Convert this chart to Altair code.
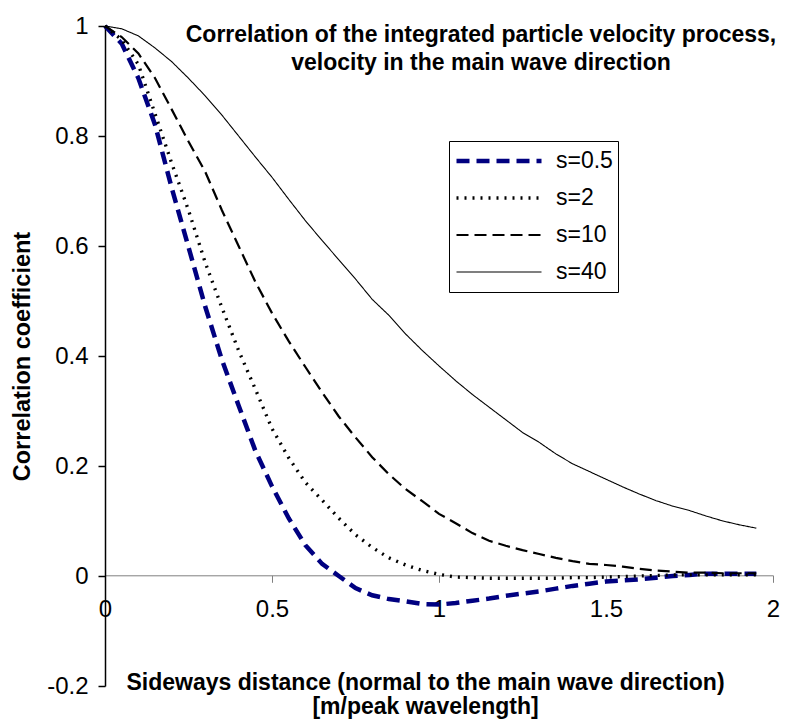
import altair as alt
import pandas as pd

FONT = "Liberation Sans, Arial, sans-serif"

x_vals = [0.0, 0.05, 0.1, 0.15, 0.2, 0.25, 0.3, 0.35, 0.4, 0.45,
          0.5, 0.55, 0.6, 0.65, 0.7, 0.75, 0.8, 0.85, 0.9, 0.95,
          1.0, 1.05, 1.1, 1.15, 1.2, 1.25, 1.3, 1.35, 1.4, 1.45,
          1.5, 1.55, 1.6, 1.65, 1.7, 1.75, 1.8, 1.85, 1.9, 1.95]

s05 = [1.0, 0.968, 0.905, 0.82, 0.705, 0.598, 0.49, 0.393, 0.31, 0.228,
       0.163, 0.105, 0.056, 0.022, 0.0, -0.022, -0.035, -0.042, -0.046, -0.051,
       -0.052, -0.049, -0.045, -0.041, -0.036, -0.032, -0.028, -0.023, -0.018, -0.014,
       -0.010, -0.008, -0.006, -0.003, 0.0, 0.002, 0.004, 0.004, 0.004, 0.004]

s2 = [1.0, 0.975, 0.93, 0.84, 0.75, 0.665, 0.57, 0.488, 0.41, 0.34,
      0.268, 0.215, 0.17, 0.138, 0.105, 0.075, 0.052, 0.033, 0.02, 0.01,
      0.003, -0.002, -0.003, -0.004, -0.004, -0.004, -0.004, -0.004, -0.003, -0.003,
      -0.002, -0.001, 0.0, 0.001, 0.002, 0.002, 0.002, 0.002, 0.002, 0.002]

s10 = [1.0, 0.98, 0.95, 0.905, 0.848, 0.79, 0.735, 0.665, 0.6, 0.535,
       0.478, 0.427, 0.38, 0.334, 0.29, 0.252, 0.216, 0.185, 0.158, 0.136,
       0.113, 0.096, 0.078, 0.064, 0.055, 0.047, 0.04, 0.033, 0.027, 0.022,
       0.02, 0.017, 0.013, 0.01, 0.008, 0.006, 0.006, 0.005, 0.005, 0.005]

s40 = [1.0, 0.995, 0.982, 0.96, 0.935, 0.905, 0.873, 0.838, 0.8, 0.762,
       0.725, 0.685, 0.646, 0.61, 0.575, 0.54, 0.503, 0.474, 0.44, 0.41,
       0.382, 0.355, 0.33, 0.307, 0.284, 0.261, 0.243, 0.222, 0.204, 0.19,
       0.176, 0.162, 0.149, 0.137, 0.127, 0.119, 0.109, 0.1, 0.093, 0.087]

series_labels = ["s=0.5", "s=2", "s=10", "s=40"]
series_values = [s05, s2, s10, s40]
series_colors = ["#000080", "#000000", "#000000", "#000000"]
series_dashes = [[13, 7], [2, 6], [12, 6], [1, 0]]
series_widths = [4.5, 1.1, 1.4, 1.4]

title_lines = ["Correlation of the integrated particle velocity process,",
               "velocity in the main wave direction"]
x_title = ["Sideways distance (normal to the main wave direction)",
           "[m/peak wavelength]"]
y_title = "Correlation coefficient"
x_ticks = [0, 0.5, 1, 1.5, 2]
y_ticks = [-0.2, 0, 0.2, 0.4, 0.6, 0.8, 1]

rows = []
for lab, vals in zip(series_labels, series_values):
    for xv, yv in zip(x_vals, vals):
        rows.append({"series": lab, "x": xv, "y": yv})
df = pd.DataFrame(rows)

leg = alt.Legend(
    title=None, orient="none", legendX=344, legendY=115,
    symbolType="stroke", symbolSize=7225, clipHeight=30, rowPadding=7,
    padding=5, strokeColor="black", fillColor="white",
    labelFont=FONT, labelFontSize=23, labelColor="black", labelOffset=12,
)

lines = alt.Chart(df).mark_line(strokeCap="butt").encode(
    x=alt.X("x:Q", scale=alt.Scale(domain=[0, 2], nice=False, zero=False),
            axis=alt.Axis(values=x_ticks, grid=False, offset=-110.7,
                          domainColor="#808080", domainWidth=1,
                          tickColor="#808080", tickSize=7, tickWidth=1,
                          labelFont=FONT, labelFontSize=24, labelColor="black",
                          labelPadding=15, labelFlush=False, labelOverlap=False,
                          labelExpr="format(datum.value, '~g')",
                          title=x_title, titleFont=FONT, titleFontSize=23,
                          titleFontWeight="bold", titleColor="black",
                          titleX=320, titleY=96, titleAlign="center",
                          titleBaseline="top", titleLineHeight=24)),
    y=alt.Y("y:Q", scale=alt.Scale(domain=[-0.2, 1], nice=False, zero=False),
            axis=alt.Axis(values=y_ticks, grid=False,
                          domainColor="black", domainWidth=1.5,
                          tickColor="black", tickSize=7, tickWidth=1.5,
                          labelFont=FONT, labelFontSize=24, labelColor="black",
                          labelPadding=10, labelOverlap=False,
                          labelExpr="replace(format(datum.value, '.1~f'), '\u2212', '-')",
                          title=y_title, titleFont=FONT, titleFontSize=23.5,
                          titleFontWeight="bold", titleColor="black",
                          titleX=-83, titleY=330, titleAngle=270,
                          titleAlign="center", titleBaseline="middle")),
    color=alt.Color("series:N", sort=series_labels,
                    scale=alt.Scale(domain=series_labels, range=series_colors), legend=leg),
    strokeDash=alt.StrokeDash("series:N", sort=series_labels,
                              scale=alt.Scale(domain=series_labels, range=series_dashes), legend=leg),
    strokeWidth=alt.StrokeWidth("series:N", sort=series_labels,
                                scale=alt.Scale(domain=series_labels, range=series_widths), legend=leg),
    order=alt.Order("x:Q"),
)

title_layer = alt.Chart(alt.Data(values=[{"k": 1}])).mark_text(
    font=FONT, fontSize=23, fontWeight="bold", align="center",
    baseline="alphabetic", lineHeight=28, color="black"
).encode(x=alt.value(376), y=alt.value(16), text=alt.value(title_lines))

chart = alt.layer(lines, title_layer).properties(
    width=668, height=660,
    autosize=alt.AutoSizeParams(type="none"),
    padding={"left": 97, "top": 18, "right": 9, "bottom": 33},
    background="white",
).configure_view(strokeWidth=0)

chart.save("out.html", embed_options={"renderer": "svg", "actions": False})
